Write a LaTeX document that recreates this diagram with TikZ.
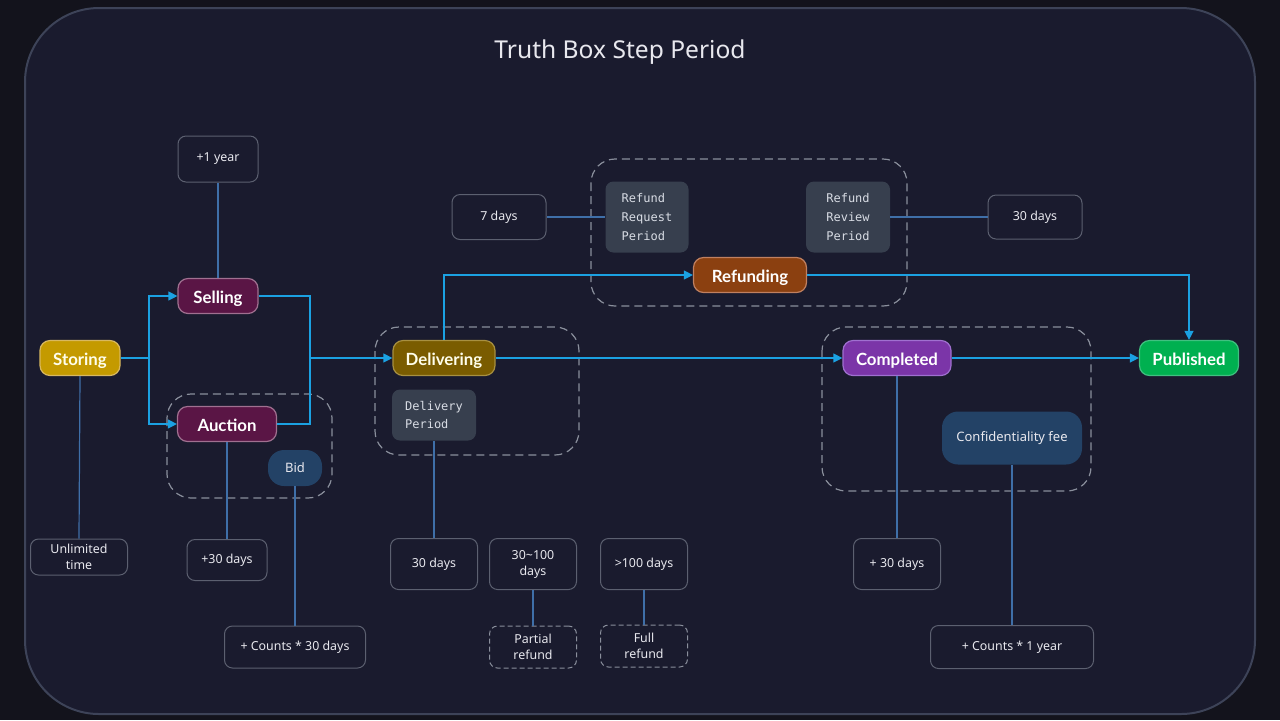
\documentclass[tikz,border=0pt]{standalone}
\usepackage{fontspec}
\setmainfont{Noto Sans}
\newfontfamily\statef{Lato}
\newfontfamily\monof{DejaVu Sans Mono}
\usetikzlibrary{arrows.meta}
\definecolor{outerc}{HTML}{13131C}
\definecolor{panelc}{HTML}{1A1B2E}
\definecolor{panelb}{HTML}{3D4358}
\definecolor{flowc}{HTML}{1BA1E2}
\definecolor{linkc}{HTML}{3F6FA8}
\definecolor{grayb}{HTML}{5C6070}
\definecolor{dashc}{HTML}{8A8F9C}
\definecolor{txt}{HTML}{E8E8EE}
\definecolor{monofill}{HTML}{373F4E}
\definecolor{monotext}{HTML}{D8DCE4}
\definecolor{storingc}{HTML}{C49A00}
\definecolor{storingb}{HTML}{D8B860}
\definecolor{sellc}{HTML}{5A1545}
\definecolor{sellb}{HTML}{A07090}
\definecolor{delivc}{HTML}{7A5C00}
\definecolor{delivb}{HTML}{A89040}
\definecolor{refc}{HTML}{8B4010}
\definecolor{refb}{HTML}{C08060}
\definecolor{compc}{HTML}{7B35A8}
\definecolor{compb}{HTML}{A070D0}
\definecolor{pubc}{HTML}{00B050}
\definecolor{pubb}{HTML}{40C080}
\definecolor{bluec}{HTML}{234266}
\begin{document}
\begin{tikzpicture}[x=0.5pt,y=-0.5pt,
 sz/.style 2 args={minimum width=#1*0.5pt, minimum height=#2*0.5pt},
 tbox/.style={draw=grayb, rounded corners=4pt, text=txt, font=\fontsize{6.2}{8}\selectfont, align=center, inner sep=0pt, line width=0.5pt},
 dbox/.style={tbox, draw=dashc, dash pattern=on 2.5pt off 1.5pt},
 state/.style={rounded corners=5pt, font=\statef\bfseries\fontsize{8.4}{10}\selectfont, inner sep=0pt, line width=0.6pt, text height=0.72em, text depth=0pt},
 mbox/.style={fill=monofill, rounded corners=4pt, font=\monof\fontsize{6}{9.3}\selectfont, align=left, text=monotext, inner sep=0pt},
 bluebox/.style={fill=bluec, text=txt, font=\fontsize{6.5}{8}\selectfont, inner sep=0pt},
 grp/.style={draw=dashc, rounded corners=12pt, line width=0.6pt, dash pattern=on 4pt off 2.5pt},
 flowline/.style={draw=flowc, line width=0.6pt},
 flow/.style={flowline, -{Triangle[length=4.5pt,width=4.5pt]}},
 link/.style={draw=linkc, line width=0.6pt}
]
\useasboundingbox (0,0) rectangle (1280,720);
\fill[outerc] (0,0) rectangle (1280,720);
\draw[fill=panelc, draw=panelb, line width=1pt, rounded corners=37pt] (25,8) rectangle (1255,714);

\node[text=txt, font=\fontsize{12.3}{15}\selectfont] (title) at (620,52) {Truth Box Step Period};

% groups
\draw[grp] (167,394) rectangle (332,498);
\draw[grp] (375,327) rectangle (579,455);
\draw[grp] (591,159) rectangle (907,306);
\draw[grp] (822,327) rectangle (1091,491);

% main states
\node[state, sz={80}{35}, fill=storingc, draw=storingb, text=white!92!yellow] (storing) at (80,358) {Storing};
\node[state, sz={80}{35}, fill=sellc, draw=sellb, text=white] (selling) at (218,296) {Selling};
\node[state, sz={99}{35}, fill=sellc, draw=sellb, text=white] (auction) at (227,424) {Auction};
\node[bluebox, sz={54}{36}, rounded corners=8pt] (bid) at (295,468) {Bid};
\node[state, sz={102}{35}, fill=delivc, draw=delivb, text=white!92!yellow] (delivering) at (444,358) {Delivering};
\node[state, sz={113}{35}, fill=refc, draw=refb, text=white] (refunding) at (750,275) {Refunding};
\node[state, sz={108}{35}, fill=compc, draw=compb, text=white] (completed) at (897,358) {Completed};
\node[state, sz={99}{35}, fill=pubc, draw=pubb, text=white] (published) at (1189,358) {Published};

% mono boxes
\node[mbox, sz={84}{51}] (delper) at (434,415) {Delivery\\Period};
\node[mbox, sz={83}{71}] (reqper) at (647,217) {Refund\\Request\\Period};
\node[mbox, sz={84}{71}] (revper) at (848,217) {Refund\\Review\\Period};
\node[bluebox, sz={140}{53}, rounded corners=8pt] (conf) at (1012,438) {Confidentiality fee};

% gray boxes
\node[tbox, sz={80}{46}] (oneyear) at (218,159) {+1 year};
\node[tbox, sz={97}{36}] (unlim) at (79,557) {Unlimited\\time};
\node[tbox, sz={80}{41}] (thirtyA) at (227,560) {+30 days};
\node[tbox, sz={141}{42}] (countsA) at (295,647) {+ Counts * 30 days};
\node[tbox, sz={87}{51}] (thirtyD) at (434,564) {30 days};
\node[tbox, sz={87}{51}] (hundred) at (533,564) {30\textasciitilde100\\days};
\node[tbox, sz={87}{51}] (over) at (644,564) {>100 days};
\node[dbox, sz={87}{42}] (partial) at (533,647) {Partial\\refund};
\node[dbox, sz={87}{42}] (full) at (644,646) {Full\\refund};
\node[tbox, sz={94}{45}] (sevend) at (499,217) {7 days};
\node[tbox, sz={94}{44}] (thirtyR) at (1035,217) {30 days};
\node[tbox, sz={87}{51}] (thirtyC) at (897,564) {+ 30 days};
\node[tbox, sz={163}{43}] (countsY) at (1012,647) {+ Counts * 1 year};

% flows
\coordinate (j1) at (149,358);
\coordinate (j2) at (310,358);
\draw[flowline] (storing.east) -- (j1);
\draw[flow] (j1) |- (selling.west);
\draw[flow] (j1) |- (auction.west);
\draw[flowline] (selling.east) -| (j2);
\draw[flowline] (auction.east) -| (j2);
\draw[flow] (j2) -- (delivering.west);
\draw[flow] (delivering.north) |- (refunding.west);
\draw[flow] (refunding.east) -| (published.north);
\draw[flow] (delivering.east) -- (completed.west);
\draw[flow] (completed.east) -- (published.west);

% links
\draw[link] (oneyear.south) -- (selling.north);
\draw[link] (storing.south) -- (unlim.north);
\draw[link] (auction.south) -- (thirtyA.north);
\draw[link] (bid.south) -- (countsA.north);
\draw[link] (delper.south) -- (thirtyD.north);
\draw[link] (hundred.south) -- (partial.north);
\draw[link] (over.south) -- (full.north);
\draw[link] (sevend.east) -- (reqper.west);
\draw[link] (revper.east) -- (thirtyR.west);
\draw[link] (completed.south) -- (thirtyC.north);
\draw[link] (conf.south) -- (countsY.north);
\end{tikzpicture}
\end{document}
